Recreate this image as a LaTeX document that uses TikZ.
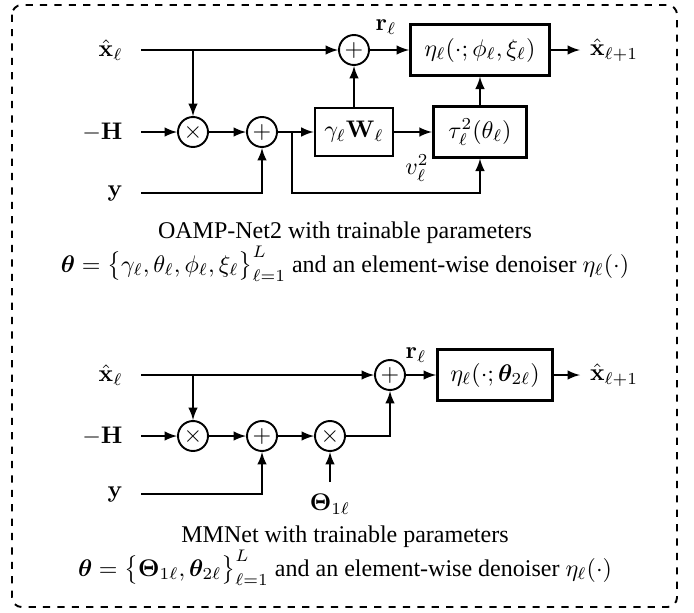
\documentclass[tikz,border=0pt]{standalone}
\usepackage{amsmath}
\usepackage{bm}
\usepackage[no-math]{fontspec}
\setmainfont{Liberation Serif}
\usetikzlibrary{positioning}

\begin{document}
\begin{tikzpicture}[x=0.4167pt, y=-0.4167pt, >=latex, every node/.style={font=\normalsize}]
    \tikzstyle{box}=[draw, line width=1.1pt, align=center, minimum height=21pt]
    \tikzstyle{junc}=[draw, circle, thick, inner sep=0pt, minimum size=12.5pt]
    \tikzstyle{inlabel}=[anchor=east, inner xsep=7.5pt]
    \tikzstyle{outlabel}=[anchor=west, inner xsep=4pt]

    \useasboundingbox (0,0) rectangle (694,612);
    \draw[thick, dashed, rounded corners=4pt] (12,5) rectangle (677,607);

    % OAMP-Net2
    \node[inlabel] (xa) at (141,50) {$\hat{\mathbf{x}}_\ell$};
    \node[inlabel] (ha) at (141,132) {$-\mathbf{H}$};
    \node[inlabel] (ya) at (141,193) {$\mathbf{y}$};
    \node[junc] (ma) at (193,132) {$\times$};
    \node[junc] (pa) at (262,132) {$+$};
    \node[box, minimum width=32.5pt, minimum height=20pt] (wa) at (354,132) {$\gamma_\ell\mathbf{W}_\ell$};
    \node[box, minimum width=39pt] (ta) at (480,132) {$\tau_\ell^2(\theta_\ell)$};
    \node[junc] (sa) at (354,50) {$+$};
    \node[box, minimum width=58pt] (ea) at (480,50) {$\eta_\ell(\cdot;\phi_\ell,\xi_\ell)$};
    \node[outlabel] (oa) at (580,50) {$\hat{\mathbf{x}}_{\ell+1}$};
    \node (ra) at (386,27) {$\mathbf{r}_\ell$};
    \node (va) at (417,168) {$v_\ell^2$};
    \coordinate (ba) at (193,50);
    \coordinate (bb) at (292,132);

    \draw[->, thick] (xa.east) -- (sa);
    \draw[->, thick] (ba) -- (ma);
    \draw[->, thick] (ha.east) -- (ma);
    \draw[->, thick] (ma) -- (pa);
    \draw[->, thick] (ya.east) -| (pa);
    \draw[->, thick] (pa) -- (wa);
    \draw[->, thick] (bb) |- (ya -| ta) -- (ta);
    \draw[->, thick] (wa) -- (ta);
    \draw[->, thick] (wa) -- (sa);
    \draw[->, thick] (ta) -- (ea);
    \draw[->, thick] (sa) -- (ea);
    \draw[->, thick] (ea) -- (oa.west);

    \node[align=center] (capa) at (345,252) {OAMP-Net2 with trainable parameters\\
      $\bm{\theta}=\big\{\gamma_\ell,\theta_\ell,\phi_\ell,\xi_\ell\big\}_{\ell=1}^{L}$ and an element-wise denoiser $\eta_\ell(\cdot)$};

    % MMNet
    \node[inlabel] (xb) at (141,375) {$\hat{\mathbf{x}}_\ell$};
    \node[inlabel] (hb) at (141,436) {$-\mathbf{H}$};
    \node[inlabel] (yb) at (141,494) {$\mathbf{y}$};
    \node[junc] (mb) at (193,436) {$\times$};
    \node[junc] (pb) at (262,436) {$+$};
    \node[junc] (nb) at (330,436) {$\times$};
    \node[anchor=north, inner ysep=5pt] (tb) at (330,482) {$\bm{\Theta}_{1\ell}$};
    \node[junc] (sb) at (390,375) {$+$};
    \node[box, minimum width=48pt] (eb) at (495,375) {$\eta_\ell(\cdot;\bm{\theta}_{2\ell})$};
    \node[outlabel] (ob) at (580,375) {$\hat{\mathbf{x}}_{\ell+1}$};
    \node (rb) at (416,355) {$\mathbf{r}_\ell$};
    \coordinate (bc) at (193,375);

    \draw[->, thick] (xb.east) -- (sb);
    \draw[->, thick] (bc) -- (mb);
    \draw[->, thick] (hb.east) -- (mb);
    \draw[->, thick] (mb) -- (pb);
    \draw[->, thick] (yb.east) -| (pb);
    \draw[->, thick] (pb) -- (nb);
    \draw[->, thick] (tb.north) -- (nb);
    \draw[->, thick] (nb) -| (sb);
    \draw[->, thick] (sb) -- (eb);
    \draw[->, thick] (eb) -- (ob.west);

    \node[align=center] (capb) at (345,556) {MMNet with trainable parameters\\
      $\bm{\theta}=\big\{\bm{\Theta}_{1\ell},\bm{\theta}_{2\ell}\big\}_{\ell=1}^{L}$ and an element-wise denoiser $\eta_\ell(\cdot)$};

\end{tikzpicture}
\end{document}
